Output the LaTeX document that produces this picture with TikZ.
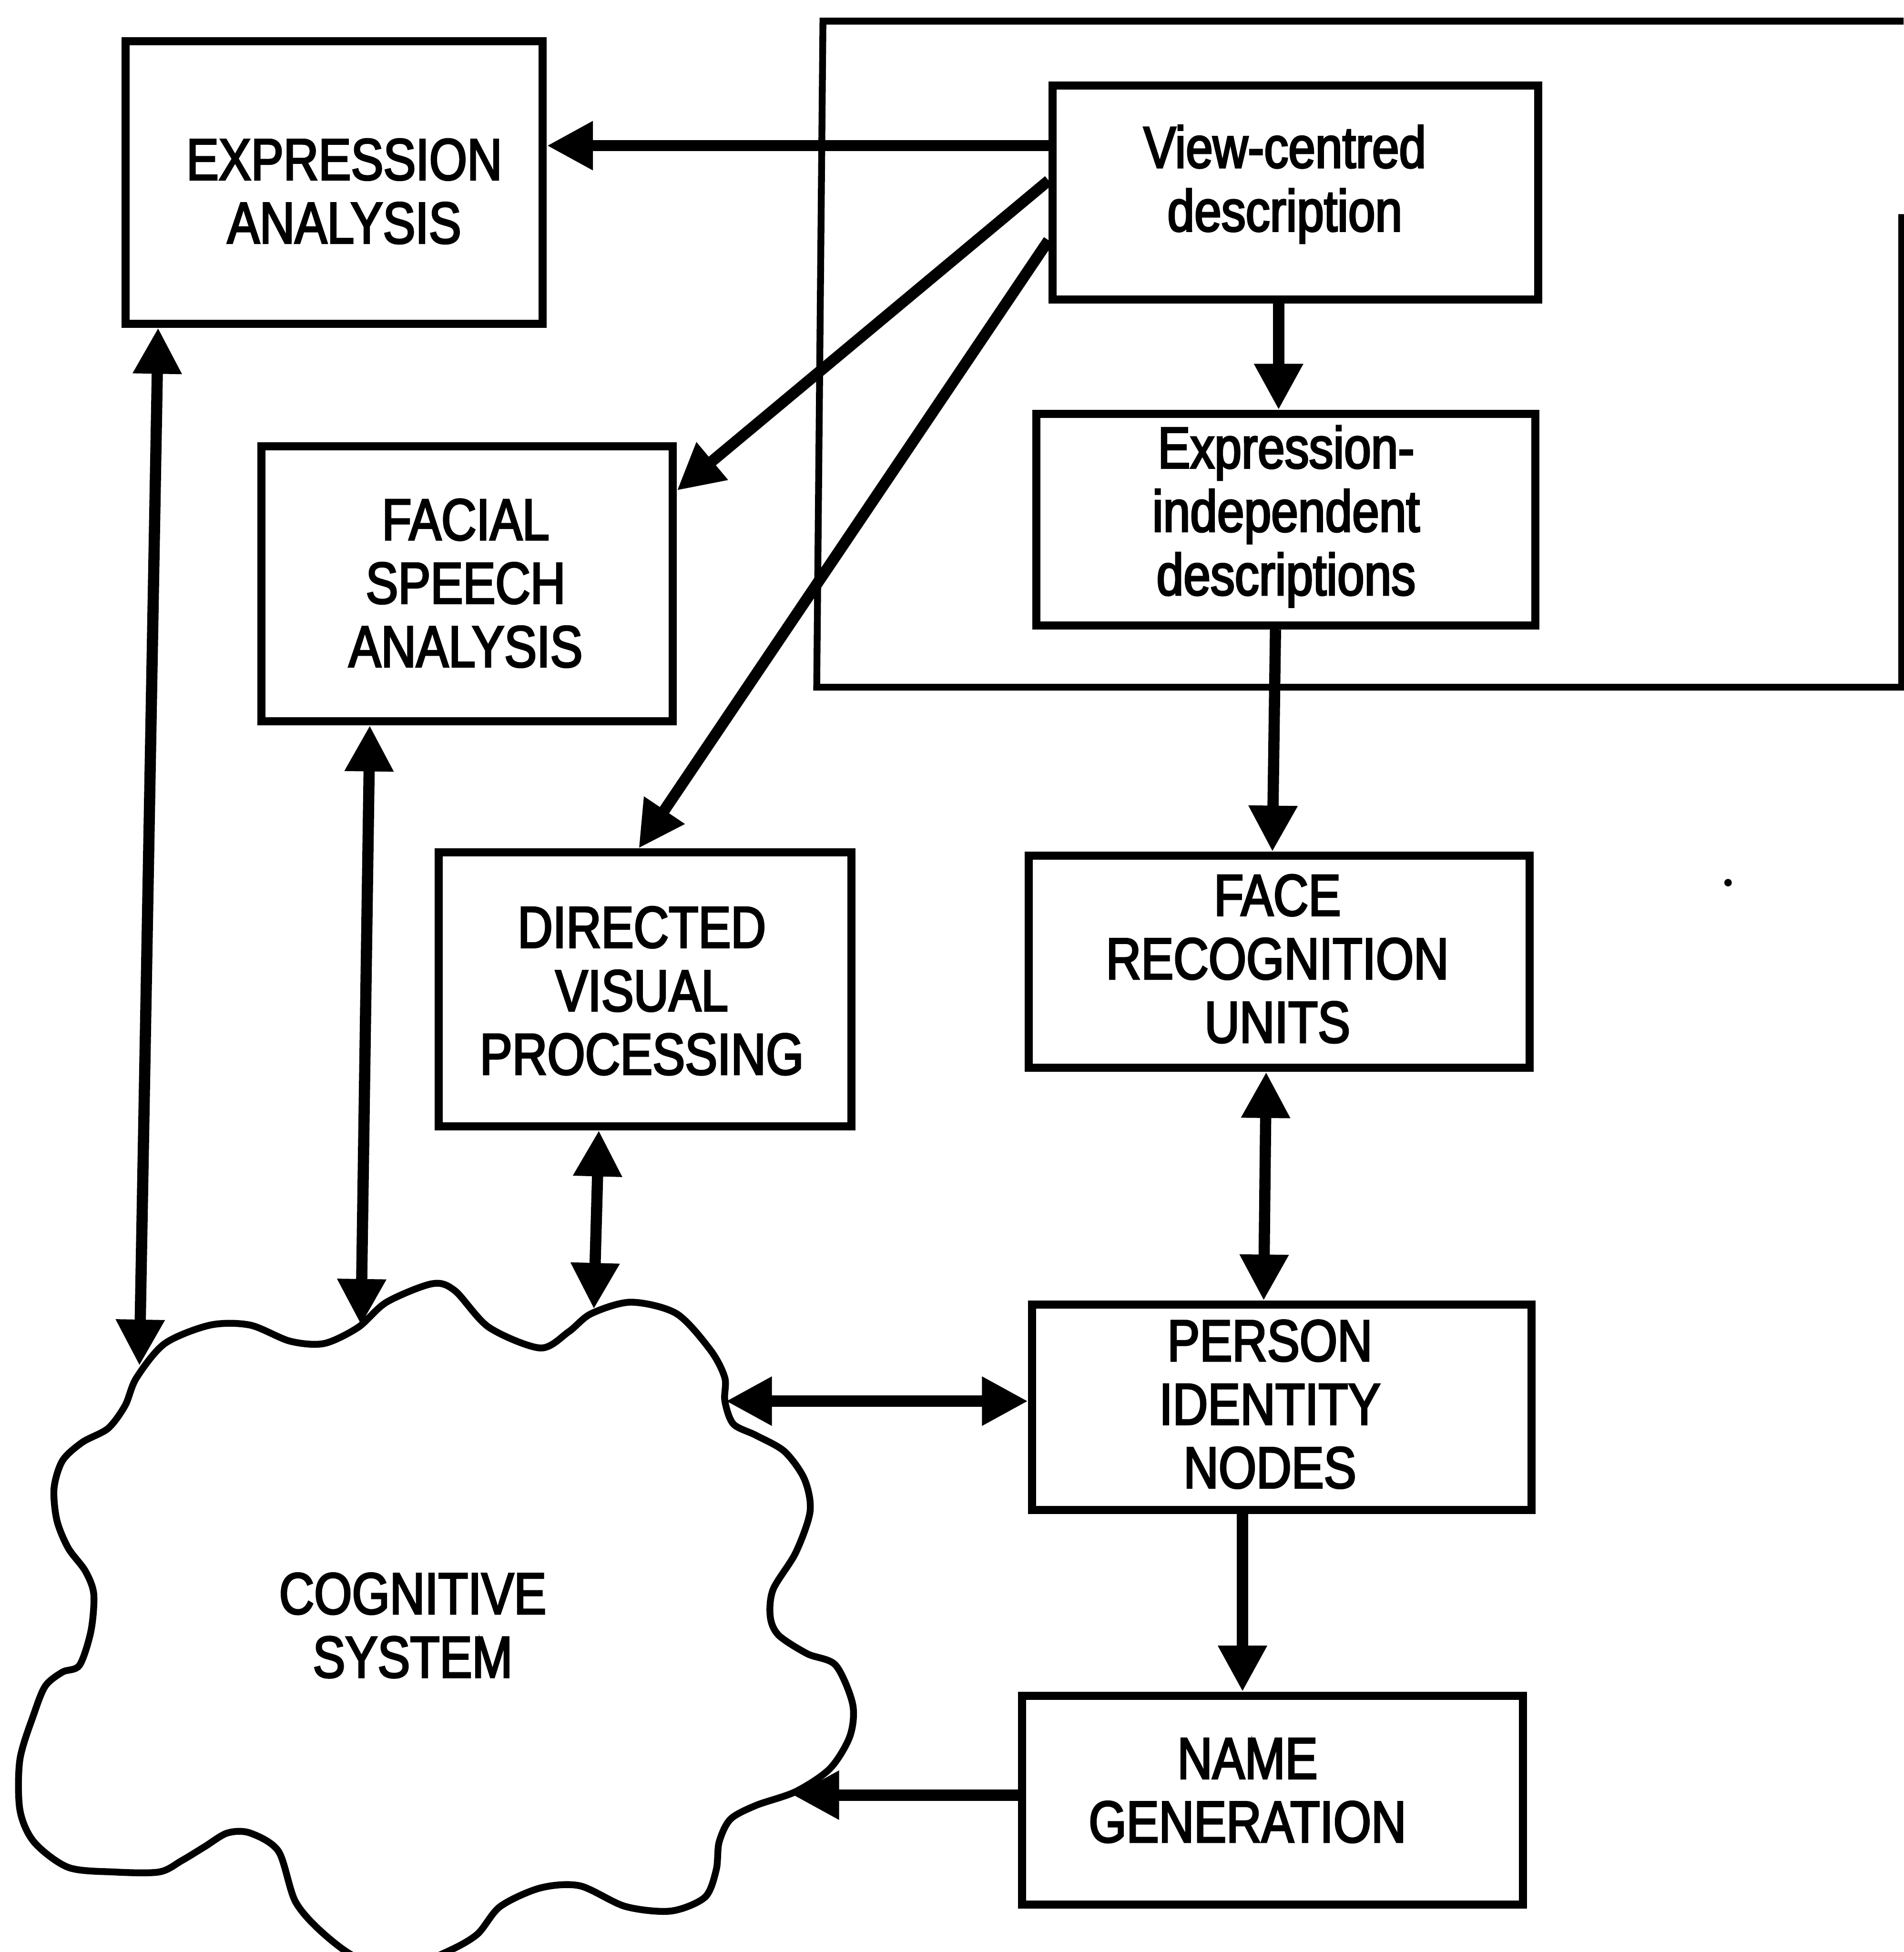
\documentclass[tikz,border=0pt]{standalone}
\usepackage{fontspec}
\setmainfont{Liberation Sans}[FakeStretch=0.83,FakeBold=3]
\usetikzlibrary{arrows.meta}
\begin{document}
\begin{tikzpicture}[x=1pt,y=-1pt,
  box/.style={draw, line width=6.5pt, rectangle, inner sep=0pt},
  lbl/.style={align=center, inner sep=0pt, font=\fontsize{47}{51}\selectfont},
  >={Triangle[length=37pt,width=37pt]},
  arr/.style={line width=9pt, ->},
  darr/.style={line width=9pt, <->}]
\useasboundingbox (0,0) rectangle (1529,1568);

% grouping frame
\draw[line width=5.5pt] (1529,17) -- (661,17) -- (656,552) -- (1527.5,552) -- (1527.5,172);

% boxes
\node[box, minimum width=335pt, minimum height=227pt] (ea) at (268.5,146.5) {};
\node[box, minimum width=390pt, minimum height=172pt] (vc) at (1040.5,154.7) {};
\node[box, minimum width=401pt, minimum height=170pt] (ei) at (1032.8,417.5) {};
\node[box, minimum width=330.5pt, minimum height=221pt] (fs) at (375.2,468.9) {};
\node[box, minimum width=331.6pt, minimum height=220pt] (dv) at (518.2,794.7) {};
\node[box, minimum width=402.6pt, minimum height=170.4pt] (fr) at (1027.5,772.6) {};
\node[box, minimum width=401pt, minimum height=165pt] (pi) at (1029.5,1130.5) {};
\node[box, minimum width=402.4pt, minimum height=167.7pt] (ng) at (1022.2,1446) {};

% labels
\node[lbl] (ea-t) at (276.5,153.7) {EXPRESSION\\ANALYSIS};
\node[lbl] (vc-t) at (1032,148) {View-centred\\description};
\node[lbl] (ei-t) at (1033,414.8) {Expression-\\independent\\descriptions};
\node[lbl] (fs-t) at (374,468.5) {FACIAL\\SPEECH\\ANALYSIS};
\node[lbl] (dv-t) at (515.5,795.9) {DIRECTED\\VISUAL\\PROCESSING};
\node[lbl] (fr-t) at (1026,770.2) {FACE\\RECOGNITION\\UNITS};
\node[lbl] (pi-t) at (1020,1128) {PERSON\\IDENTITY\\NODES};
\node[lbl] (ng-t) at (1002,1438.3) {NAME\\GENERATION};

% cognitive system cloud
\begin{scope}
\clip (0,0) rectangle (1529,1568);
\draw[line width=5.5pt] plot[smooth cycle] coordinates {
 (109.6,1106.8) (132.4,1079.2) (168.9,1064.4) (200.9,1064.4) (232.9,1077.3)
 (260.3,1079.2) (287.7,1066.2) (310.5,1046.0) (347.0,1031.2) (365.3,1036.7)
 (392.7,1066.2) (433.8,1082.8) (456.6,1069.9) (474.9,1055.2) (506.8,1046.0)
 (543.4,1055.2) (570.8,1084.7) (582.2,1106.8) (582.2,1125.3) (589.0,1143.8)
 (607.3,1153.0) (630.1,1165.9) (646.1,1188.1) (650.7,1213.9) (639.2,1247.1)
 (621.0,1276.7) (618.7,1298.8) (625.5,1313.6) (648.4,1328.4) (671.2,1337.6)
 (684.9,1369.0) (682.6,1394.8) (666.6,1420.7) (639.2,1439.1) (607.3,1450.2)
 (586.7,1461.3) (577.6,1479.7) (575.3,1501.9) (566.2,1524.0) (538.8,1535.1)
 (502.3,1531.4) (465.7,1514.8) (433.8,1516.6) (401.8,1531.4) (383.5,1553.6)
 (360.7,1567.0) (330,1578) (290,1574) (260.3,1553.6) (237.4,1527.7)
 (223.7,1487.1) (200.9,1472.4) (182.6,1472.4) (164.4,1483.4) (146.1,1494.5)
 (127.8,1503.7) (91.3,1503.7) (54.8,1500.0) (27.4,1479.7) (16.0,1453.9)
 (16.0,1413.3) (27.4,1376.3) (36.5,1354.2) (50.2,1343.1) (63.9,1337.6)
 (73.1,1309.9) (75.3,1280.4) (68.5,1261.9) (54.8,1243.5) (45.7,1221.3)
 (43.4,1195.5) (50.2,1173.3) (66.2,1158.5) (86.8,1147.4) (100.5,1129.0)};
\end{scope}
\node[lbl] (cs-t) at (331.5,1305.7) {COGNITIVE\\SYSTEM};

% connection points on the cloud
\coordinate (cEA) at (112,1097);
\coordinate (cFS) at (290,1064.4);
\coordinate (cDV) at (477,1051.5);
\coordinate (cPI) at (583,1125.5);
\coordinate (cNG) at (637,1442);

% connectors
\draw[arr] (vc.west |- 0,117) -- (ea.east |- 0,117);
\draw[arr] (vc.west |- 0,145) -- (fs.east |- 0,394);
\draw[arr] (vc.west |- 0,193) -- (513,0 |- dv.north);
\draw[arr] (1027,0 |- vc.south) -- (1027,0 |- ei.north);
\draw[arr] (1024.5,0 |- ei.south) -- (1022,0 |- fr.north);
\draw[darr] (1017,0 |- fr.south) -- (1015,0 |- pi.north);
\draw[arr] (998,0 |- pi.south) -- (998,0 |- ng.north);
\draw[arr] (ng.west |- 0,1442) -- (cNG);
\draw[darr] (cPI) -- (pi.west |- cPI);
\draw[darr] (127,0 |- ea.south) -- (cEA);
\draw[darr] (297,0 |- fs.south) -- (cFS);
\draw[darr] (481,0 |- dv.south) -- (cDV);

% stray dot
\fill (1388,709) circle (3pt);
\end{tikzpicture}
\end{document}
